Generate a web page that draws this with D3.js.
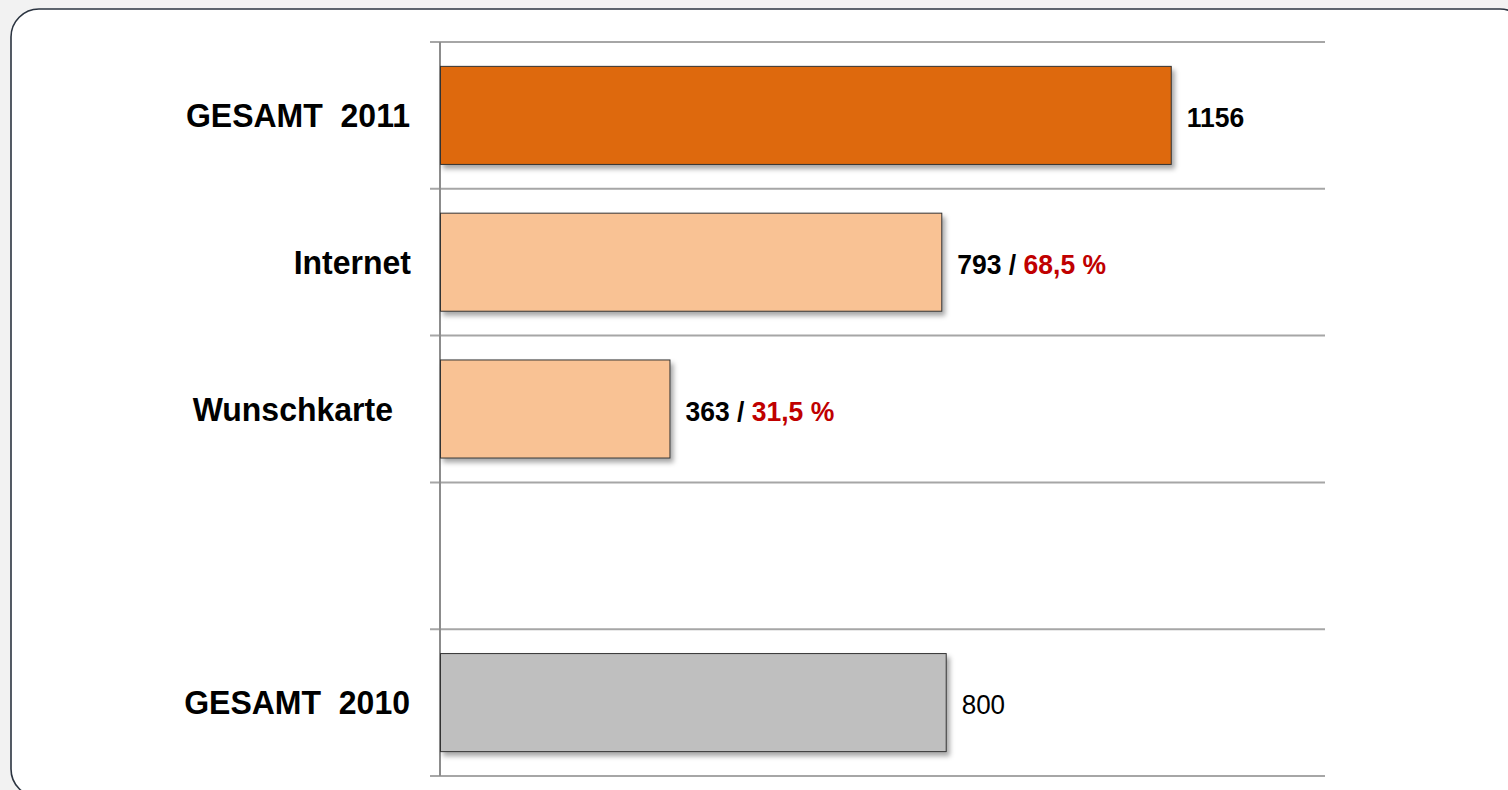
<!DOCTYPE html>
<html>
<head>
<meta charset="utf-8">
<script src="https://cdn.jsdelivr.net/npm/d3@7"></script>
<style>
  html, body { margin: 0; padding: 0; background: #f2f2f2; overflow: hidden; }
  svg { display: block; font-family: "Liberation Sans", Arial, sans-serif; }
</style>
</head>
<body>
<script>
// chart data
const categories = ["GESAMT  2011", "Internet", "Wunschkarte", "", "GESAMT  2010"];
const values = [1156, 793, 363, null, 800];
const shares = [null, "68,5 %", "31,5 %", null, null];
const axisMax = 1400;

const width = 1508, height = 790;
const colors = ["#de690b", "#f9c294", "#f9c294", null, "#bfbfbf"];
// the Wunschkarte label sits a bit left of the others in the original
const labelShift = { "Wunschkarte": -17, "Internet": 1 };
const stretch = 1.06; // text in the original is a little taller than wide

const svg = d3.select("body").append("svg")
    .attr("width", width)
    .attr("height", height);

// drop shadow for the bars
const defs = svg.append("defs");
defs.append("filter")
    .attr("id", "shadow")
    .attr("x", "-5%").attr("y", "-20%")
    .attr("width", "115%").attr("height", "150%")
  .append("feDropShadow")
    .attr("dx", 3).attr("dy", 4)
    .attr("stdDeviation", 2.5)
    .attr("flood-color", "#000")
    .attr("flood-opacity", 0.35);

// panel
svg.append("rect")
    .attr("x", 11).attr("y", 9)
    .attr("width", 1517).attr("height", 788)
    .attr("rx", 28).attr("ry", 28)
    .attr("fill", "#fff")
    .attr("stroke", "#2b3440")
    .attr("stroke-width", 1.6);

const x = d3.scaleLinear()
    .domain([0, axisMax])
    .range([440, 1325]);

const y = d3.scaleBand()
    .domain(d3.range(categories.length))
    .range([42, 776])
    .paddingInner(0.332)
    .paddingOuter(0.166);

const step = y.step();
const bounds = d3.range(categories.length + 1).map(i => 42 + i * step);

// gridlines at band boundaries
svg.append("g")
  .selectAll("line")
  .data(bounds)
  .join("line")
    .attr("x1", 430).attr("x2", x(axisMax))
    .attr("y1", d => d).attr("y2", d => d)
    .attr("stroke", "#a6a6a6")
    .attr("stroke-width", 2);

// vertical axis
svg.append("line")
    .attr("x1", x(0)).attr("x2", x(0))
    .attr("y1", bounds[0]).attr("y2", bounds[bounds.length - 1])
    .attr("stroke", "#8c8c8c")
    .attr("stroke-width", 2);

const rows = categories.map((c, i) => ({ cat: c, value: values[i], share: shares[i], color: colors[i], i: i }));

// bars
svg.append("g")
  .selectAll("rect")
  .data(rows.filter(d => d.value != null))
  .join("rect")
    .attr("x", x(0) + 0.5)
    .attr("y", d => y(d.i))
    .attr("width", d => x(d.value) - x(0))
    .attr("height", y.bandwidth())
    .attr("fill", d => d.color)
    .attr("stroke", "#333")
    .attr("stroke-width", 1)
    .attr("filter", "url(#shadow)");

// category labels
svg.append("g")
  .selectAll("text")
  .data(rows.filter(d => d.cat !== ""))
  .join("text")
    .attr("transform", d => `translate(${410 + (labelShift[d.cat] || 0)},${y(d.i) + y.bandwidth() / 2 + 11.5}) scale(1,${stretch})`)
    .attr("text-anchor", "end")
    .style("white-space", "pre")
    .style("font-size", "32px")
    .style("font-weight", "bold")
    .attr("fill", "#000")
    .text(d => d.cat);

// value labels
const vl = svg.append("g")
  .selectAll("text")
  .data(rows.filter(d => d.value != null))
  .join("text")
    .attr("transform", d => `translate(${x(d.value) + 16},${y(d.i) + y.bandwidth() / 2 + 11.5}) scale(1,${stretch})`)
    .style("font-size", d => d.i === 4 ? "26px" : "26.5px")
    .style("font-weight", d => d.i === 4 ? "normal" : "bold")
    .attr("fill", "#000");

vl.append("tspan").text(d => d.share ? d.value + " / " : d.value);
vl.filter(d => d.share).append("tspan")
    .attr("fill", "#c00000")
    .text(d => d.share);
</script>
</body>
</html>
